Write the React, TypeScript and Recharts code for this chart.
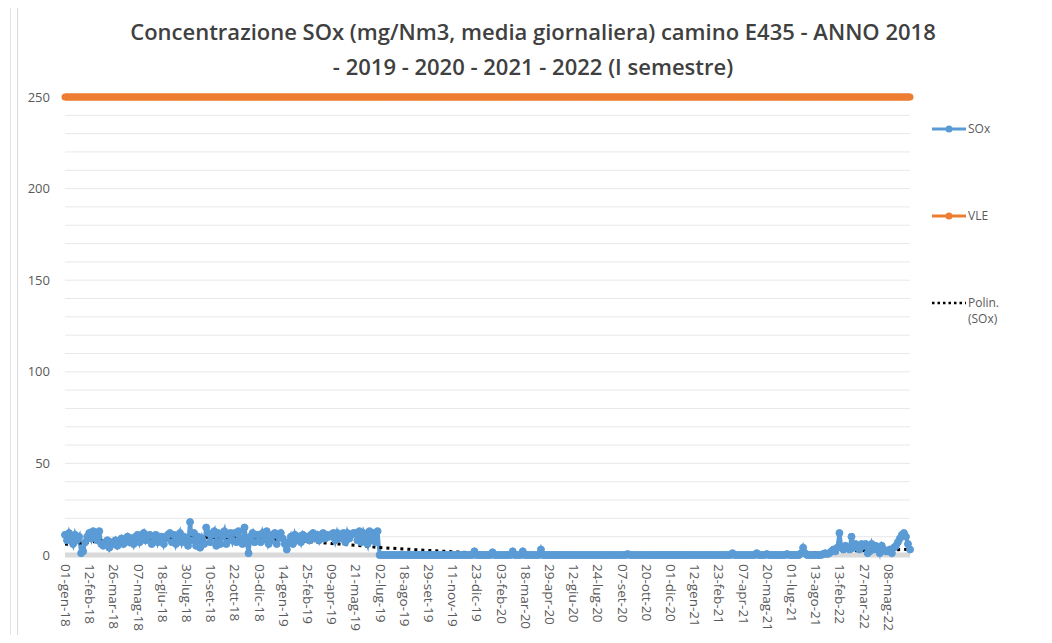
import React from 'react';
import { LineChart, Line, XAxis, YAxis, CartesianGrid } from 'recharts';

// one label every 12 points on the category axis
const tickLabels = [
  '01-gen-18', '12-feb-18', '26-mar-18', '07-mag-18', '18-giu-18', '30-lug-18', '10-set-18',
  '22-ott-18', '03-dic-18', '14-gen-19', '25-feb-19', '09-apr-19', '21-mag-19', '02-lug-19',
  '18-ago-19', '29-set-19', '11-nov-19', '23-dic-19', '03-feb-20', '18-mar-20', '29-apr-20',
  '12-giu-20', '24-lug-20', '07-set-20', '20-ott-20', '01-dic-20', '12-gen-21', '23-feb-21',
  '07-apr-21', '20-mag-21', '01-lug-21', '13-ago-21', '13-feb-22', '27-mar-22', '08-mag-22',
];
const POINTS_PER_TICK = 12;

// SOx mg/Nm3, one row per tick interval
const soxValues = [
  11, 8, 12, 9, 6, 11, 8, 10, 1, 2, 7, 10,
  12, 9, 13, 12, 8, 13, 6, 5, 7, 8, 4, 7,
  6, 8, 5, 7, 9, 6, 8, 10, 7, 9, 6, 10,
  11, 7, 10, 12, 8, 10, 11, 6, 10, 11, 7, 10,
  10, 6, 9, 11, 12, 7, 11, 6, 9, 12, 7, 10,
  9, 5, 18, 8, 12, 5, 10, 4, 9, 6, 15, 12,
  7, 11, 13, 5, 12, 6, 10, 13, 6, 11, 12, 8,
  12, 7, 13, 9, 6, 15, 8, 1, 10, 12, 7, 11,
  11, 7, 12, 9, 13, 6, 8, 11, 12, 6, 10, 12,
  9, 6, 3, 7, 10, 6, 11, 8, 10, 7, 11, 9,
  10, 8, 11, 12, 9, 11, 8, 11, 12, 9, 11, 10,
  11, 12, 8, 12, 9, 11, 12, 7, 12, 9, 11, 12,
  12, 8, 13, 7, 12, 9, 6, 13, 8, 12, 7, 13,
  0, 0, 0, 0, 0, 0, 0, 0, 0, 0, 0, 0,
  0, 0, 0, 0, 0, 0, 0, 0, 0, 0, 0, 0,
  0, 0, 0, 0, 0, 0, 0, 0, 0, 0, 0, 0,
  0, 0, 0, 0, 0, 0, 0, 0, 0, 0, 0, 2,
  0, 0, 0, 0, 0, 0, 0, 0, 1.5, 0, 0, 0,
  0, 0, 0, 0, 0, 0, 2, 0, 0, 0, 0, 2,
  0, 0, 0, 0, 0, 0, 0, 0, 3, 0, 0, 0,
  0, 0, 0, 0, 0, 0, 0, 0, 0, 0, 0, 0,
  0, 0, 0, 0, 0, 0, 0, 0, 0, 0, 0, 0,
  0, 0, 0, 0, 0, 0, 0, 0, 0, 0, 0, 0,
  0, 0, 0, 0.5, 0, 0, 0, 0, 0, 0, 0, 0,
  0, 0, 0, 0, 0, 0, 0, 0, 0, 0, 0, 0,
  0, 0, 0, 0, 0, 0, 0, 0, 0, 0, 0, 0,
  0, 0, 0, 0, 0, 0, 0, 0, 0, 0, 0, 0,
  0, 0, 0, 0, 0, 0, 0, 1, 0, 0, 0, 0,
  0, 0, 0, 0, 0, 0, 0, 1, 0, 0, 0, 0,
  0.5, 0, 0, 0, 0, 0, 0, 0, 0, 0, 0.5, 0,
  0, 0, 0, 0, 0, 1, 4, 1, 0, 0, 0, 0,
  0, 0, 0, 0, 0.5, 1, 0.5, 1, 2, 3, 2, 4,
  12, 4, 3, 5, 4, 3, 10, 4, 6, 5, 3, 6,
  5, 6, 1, 2, 6, 3, 5, 4, 1, 5, 3, 2,
  2, 3, 1, 4, 5, 7, 9, 11, 12, 10, 6, 3,
];

// polynomial trend read at each tick label, plus the last day
const trendAtTicks = [
  5.8, 7.0, 8.1, 8.9, 9.5, 9.7, 9.7, 9.4, 8.9, 8.2, 7.3, 6.3, 5.3, 4.1, 3.3, 2.5, 1.8, 1.2,
  0.8, 0.4, 0.2, 0.0, 0.0, 0.0, 0.0, 0.0, 0.1, 0.2, 0.4, 0.6, 0.9, 1.3, 1.8, 2.3, 2.7,
];
const trendLast = 3.2;

const vleLimit = 250;
const yTicks = [0, 10, 20, 30, 40, 50, 60, 70, 80, 90, 100, 110, 120, 130, 140, 150, 160, 170, 180, 190, 200, 210, 220, 230, 240, 250];

const data = soxValues.map((v, i) => ({
  idx: i,
  sox: v,
  vle: vleLimit,
  trend: i % POINTS_PER_TICK === 0 ? trendAtTicks[i / POINTS_PER_TICK] : i === soxValues.length - 1 ? trendLast : null,
}));

const legendItems = [
  { label: 'SOx', color: '#5b9bd5', kind: 'line', top: 121 },
  { label: 'VLE', color: '#ed7d31', kind: 'line', top: 208 },
  { label: 'Polin.\n(SOx)', color: '#000', kind: 'dots', top: 295 },
];

const FONT = "'Open Sans', 'Liberation Sans', sans-serif";

const RotatedTick = (props: any) => {
  const { x, y, payload } = props;
  const label = tickLabels[payload.value / POINTS_PER_TICK] ?? '';
  return (
    <text transform={`translate(${x - 4},${y + 3}) rotate(90)`} textAnchor="start" fontSize={13.5} fill="#595959" fontFamily={FONT}>
      {label}
    </text>
  );
};

export default function App() {
  return (
    <div style={{ position: 'relative', width: 1052, height: 643, margin: -8, overflow: 'hidden', background: '#fff', fontFamily: FONT }}>
      <div style={{ position: 'absolute', left: 10, top: 0, width: 1, height: 643, background: '#e3e3e3' }} />
      <div style={{ position: 'absolute', left: 17, top: 5, width: 1032, height: 660, border: '1px solid #d9d9d9' }} />
      <div style={{ position: 'absolute', left: 0, top: 14, width: 1066, textAlign: 'center', color: '#404040', fontSize: 22, fontWeight: 600, lineHeight: '35px' }}>
        Concentrazione SOx (mg/Nm3, media giornaliera) camino E435 - ANNO 2018
        <br />- 2019 - 2020 - 2021 - 2022 (I semestre)
      </div>
      <div style={{ position: 'absolute', left: 0, top: 0 }}>
        <LineChart width={1052} height={643} data={data} margin={{ top: 97, right: 142, bottom: 0, left: 0 }}>
          <CartesianGrid vertical={false} stroke="#e8e8e8" />
          <XAxis
            dataKey="idx"
            type="category"
            interval={POINTS_PER_TICK - 1}
            tick={<RotatedTick />}
            tickLine={false}
            tickSize={0}
            tickMargin={6}
            axisLine={{ stroke: '#d9d9d9', strokeWidth: 5 }}
            height={88}
          />
          <YAxis
            domain={[0, 250]}
            ticks={yTicks}
            interval={0}
            tickFormatter={(v: number) => (v % 50 === 0 ? String(v) : '')}
            axisLine={false}
            tickLine={false}
            tickSize={0}
            tickMargin={15}
            width={65}
            tick={{ fontSize: 13, fill: '#595959', fontFamily: FONT }}
          />
          <Line
            dataKey="sox"
            stroke="#5b9bd5"
            strokeWidth={4}
            dot={{ r: 3.5, fill: '#5b9bd5', stroke: '#5b9bd5', strokeWidth: 1 }}
            isAnimationActive={false}
          />
          <Line
            dataKey="vle"
            stroke="#ed7d31"
            strokeWidth={7}
            dot={{ r: 3.5, fill: '#ed7d31', stroke: '#ed7d31', strokeWidth: 0 }}
            isAnimationActive={false}
          />
          <Line
            dataKey="trend"
            type="monotone"
            stroke="#000"
            strokeWidth={3}
            strokeDasharray="3 4"
            dot={false}
            connectNulls
            isAnimationActive={false}
          />
        </LineChart>
      </div>
      {legendItems.map((item) => (
        <div key={item.label} style={{ position: 'absolute', left: 931, top: item.top, display: 'flex', alignItems: 'flex-start' }}>
          <svg width={36} height={16} style={{ flex: 'none' }}>
            {item.kind === 'line' ? (
              <>
                <line x1={1} y1={8} x2={35} y2={8} stroke={item.color} strokeWidth={3} />
                <circle cx={18} cy={8} r={3.5} fill={item.color} />
              </>
            ) : (
              <line x1={1} y1={8} x2={35} y2={8} stroke={item.color} strokeWidth={2.5} strokeDasharray="2.5 3" />
            )}
          </svg>
          <span style={{ fontSize: 12, color: '#595959', lineHeight: '16px', whiteSpace: 'pre', marginLeft: 1 }}>{item.label}</span>
        </div>
      ))}
    </div>
  );
}
